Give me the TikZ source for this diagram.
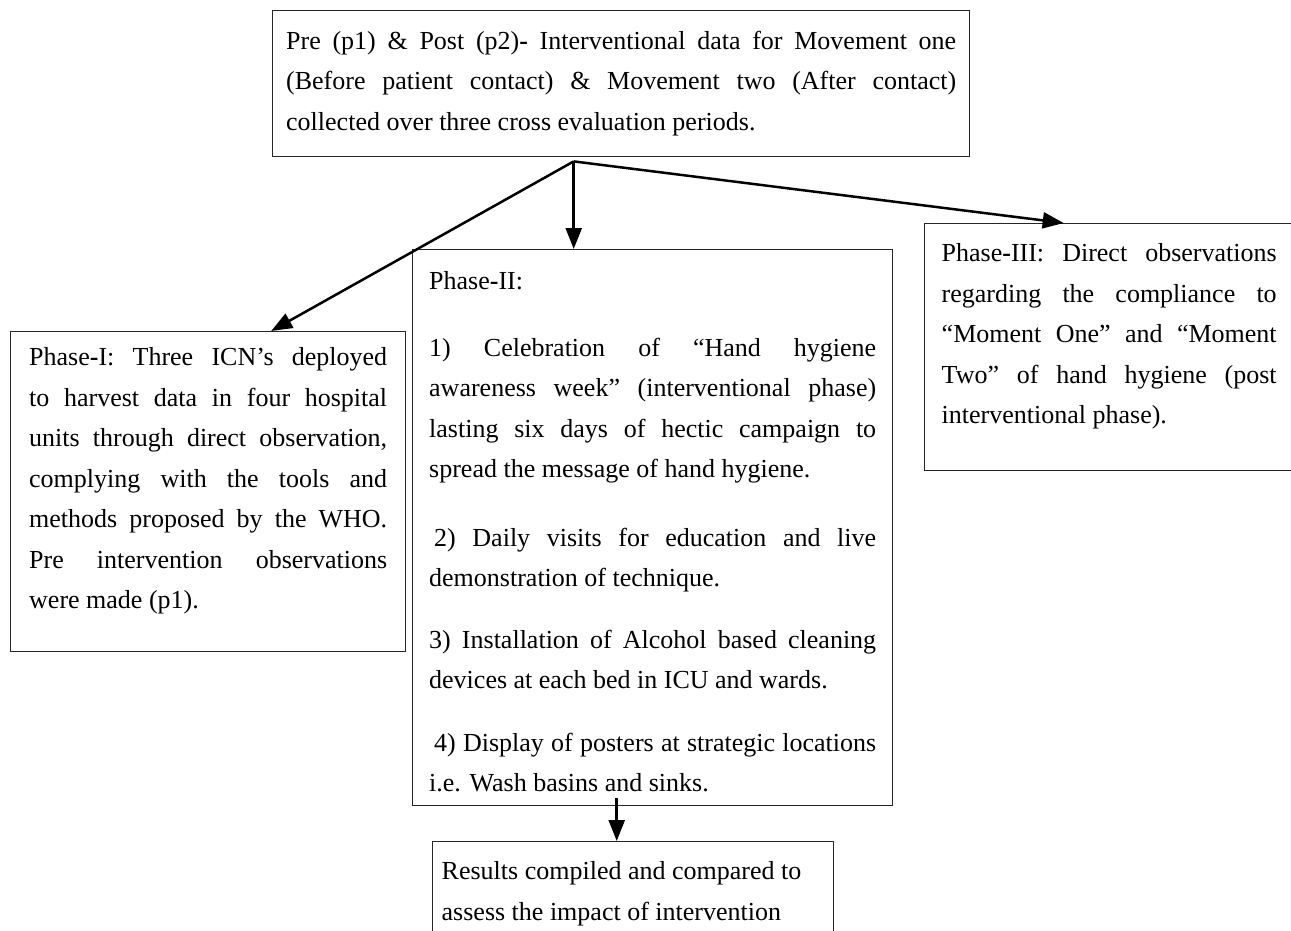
\documentclass[tikz,border=0pt]{standalone}
\usepackage{fontspec}
\setmainfont{Liberation Serif}
\usetikzlibrary{arrows.meta}
\hyphenpenalty=10000
\tolerance=9999
\begin{document}
\begin{tikzpicture}[x=1pt,y=-1pt,
stage/.style ={rectangle, draw=black!85, line width=1.4pt,
  anchor=north west, inner xsep=16pt,
  font=\fontsize{26}{40.5}\selectfont
},
flow/.style ={line width=2.5pt, -{Triangle[length=21pt,width=16pt]}
}]
\useasboundingbox (0,0) rectangle (1291,931);
\node (top) at (272,10) [stage, inner xsep=13.5pt, inner ysep=20pt]
  {\parbox[t][106pt][t]{670pt}{Pre (p1) \& Post (p2)\textbf{-} Interventional data for Movement one\linebreak
  (Before patient contact) \& Movement two (After contact)\linebreak
  collected over three cross evaluation periods.}};
\node (p1) at (10,331) [stage, inner xsep=18.5pt, inner ysep=16pt]
  {\parbox[t][288pt][t]{358pt}{Phase\textbf{-}I: Three ICN’s deployed\linebreak
  to harvest data in four hospital\linebreak
  units through direct observation,\linebreak
  complying with the tools and\linebreak
  methods proposed by the WHO.\linebreak
  Pre intervention observations\linebreak
  were made (p1).}};
\node (p2) at (412,249) [stage, inner xsep=16.5pt, inner ysep=22pt]
  {\parbox[t][512pt][t]{447pt}{Phase\textbf{-}II:\par\vspace{26pt}
  1) Celebration of “Hand hygiene\linebreak
  awareness week” (interventional phase)\linebreak
  lasting six days of hectic campaign to\linebreak
  spread the message of hand hygiene.\par\vspace{28pt}
  \hspace*{5pt}2) Daily visits for education and live\linebreak
  demonstration of technique.\par\vspace{21pt}
  3) Installation of Alcohol based cleaning\linebreak
  devices at each bed in ICU and wards.\par\vspace{22pt}
  \hspace*{5pt}4) Display of posters at strategic locations\linebreak
  i.e. Wash basins and sinks.}};
\node (p3) at (924,223) [stage, inner xsep=17pt, inner ysep=20pt]
  {\parbox[t][207pt][t]{335pt}{Phase\textbf{-}III: Direct observations\linebreak
  regarding the compliance to\linebreak
  “Moment One” and “Moment\linebreak
  Two” of hand hygiene (post\linebreak
  interventional phase).}};
\node (res) at (432,841) [stage, inner xsep=9pt, inner ysep=20pt]
  {\parbox[t][80pt][t]{383pt}{\raggedright Results compiled and compared to\\
  assess the impact of intervention}};
\coordinate (fork) at ([xshift=-47.5pt,yshift=-4pt]top.south);
\coordinate (drop) at ([xshift=-36pt,yshift=8pt]p2.south);
\draw[flow] (fork) -- ([xshift=63pt]p1.north);
\draw[flow] (fork) -- (fork |- p2.north);
\draw[flow] (fork) -- ([xshift=-45.5pt]p3.north);
\draw[flow] (drop) -- (drop |- res.north);
\end{tikzpicture}
\end{document}
